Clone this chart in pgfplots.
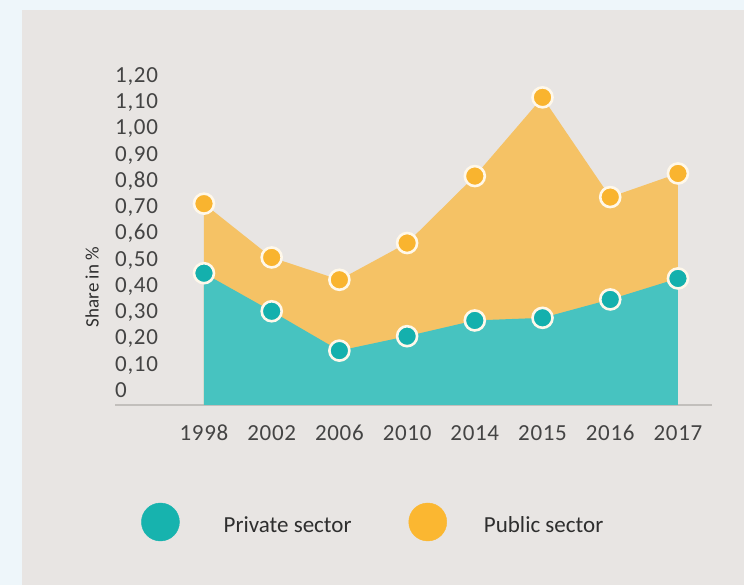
\documentclass[border=0pt]{standalone}
\usepackage{pgfplots}
\pgfplotsset{compat=1.18}
\usepackage{fontspec}
\setmainfont{Carlito}
\newfontfamily\tickfont[LetterSpace=3]{Carlito}
\definecolor{outerbg}{HTML}{EEF6FA}
\definecolor{panelbg}{HTML}{E8E5E3}
\definecolor{orangearea}{HTML}{F5C265}
\definecolor{tealarea}{HTML}{47C3C0}
\definecolor{orangedot}{HTML}{F9B42F}
\definecolor{tealdot}{HTML}{14B0AD}
\definecolor{cream}{HTML}{FFF8EA}
\definecolor{axisgray}{HTML}{C2BFBC}
\definecolor{ticktext}{HTML}{444444}
\definecolor{labeltext}{HTML}{2E2E2E}
\definecolor{legteal}{HTML}{17B3AE}
\definecolor{legorange}{HTML}{FBB731}
\begin{document}
\begin{tikzpicture}
\fill[outerbg] (0pt,0pt) rectangle (744pt,585pt);
\fill[panelbg] (22pt,0pt) rectangle (744pt,575pt);
\begin{axis}[
  at={(115pt,180pt)}, anchor=south west,
  scale only axis, width=597pt, height=343.1pt,
  xmin=-1.314, xmax=7.503, ymin=-0.0571, ymax=1.25,
  clip=false,
  axis x line*=bottom, axis y line*=left,
  y axis line style={draw=none},
  x axis line style={draw=axisgray, line width=1.2pt},
  major tick length=0pt,
  xtick={0,1,2,3,4,5,6,7},
  xticklabels={1998,2002,2006,2010,2014,2015,2016,2017},
  ytick={0,0.1,0.2,0.3,0.4,0.5,0.6,0.7,0.8,0.9,1.0,1.1,1.2},
  yticklabels={0,{0,10},{0,20},{0,30},{0,40},{0,50},{0,60},{0,70},{0,80},{0,90},{1,00},{1,10},{1,20}},
  xticklabel style={font=\tickfont\fontsize{23}{25}\selectfont, text=ticktext, anchor=base, inner sep=0pt, yshift=-35.5pt},
  yticklabel style={font=\tickfont\fontsize{23}{25}\selectfont, text=ticktext, anchor=base west, inner sep=0pt, yshift=-7.3pt},
  ylabel={Share in \%},
  every axis y label/.style={at={(axis description cs:-0.0385,0.344)}, rotate=90, anchor=center, font=\fontsize{19}{21}\selectfont, text=labeltext},
  legend columns=2,
  legend cell align=left,
  legend style={at={(axis description cs:0.0436,-0.341)}, anchor=west, draw=none, fill=none, inner sep=0pt,
    font=\fontsize{23}{25}\selectfont, text=labeltext, nodes={inner sep=0pt},
    /tikz/every even column/.append style={column sep=57pt}},
]
\addlegendimage{legend image code/.code={\fill[legteal] (0pt,3.5pt) circle (19pt); \path (63pt,0pt);}}
\addlegendentry{Private sector}
\addlegendimage{legend image code/.code={\fill[legorange] (0pt,3.5pt) circle (19pt); \path (56pt,0pt);}}
\addlegendentry{Public sector}
% public sector area
\addplot[fill=orangearea, draw=none, forget plot] coordinates {
 (0,-0.0571) (0,0.71) (1,0.505) (2,0.42) (3,0.56) (4,0.815) (5,1.115) (6,0.735) (7,0.825) (7,-0.0571)} -- cycle;
% private sector area
\addplot[fill=tealarea, draw=none, forget plot] coordinates {
 (0,-0.0571) (0,0.445) (1,0.30) (2,0.15) (3,0.205) (4,0.265) (5,0.275) (6,0.345) (7,0.425) (7,-0.0571)} -- cycle;
% markers
\addplot[only marks, mark=*, mark size=10pt, mark options={fill=orangedot, draw=cream, line width=2.6pt}, forget plot] coordinates {
 (0,0.71) (1,0.505) (2,0.42) (3,0.56) (4,0.815) (5,1.115) (6,0.735) (7,0.825)};
\addplot[only marks, mark=*, mark size=10pt, mark options={fill=tealdot, draw=cream, line width=2.6pt}, forget plot] coordinates {
 (0,0.445) (1,0.30) (2,0.15) (3,0.205) (4,0.265) (5,0.275) (6,0.345) (7,0.425)};
\end{axis}
\pgfresetboundingbox
\useasboundingbox (0pt,0pt) rectangle (744pt,585pt);
\end{tikzpicture}
\end{document}
